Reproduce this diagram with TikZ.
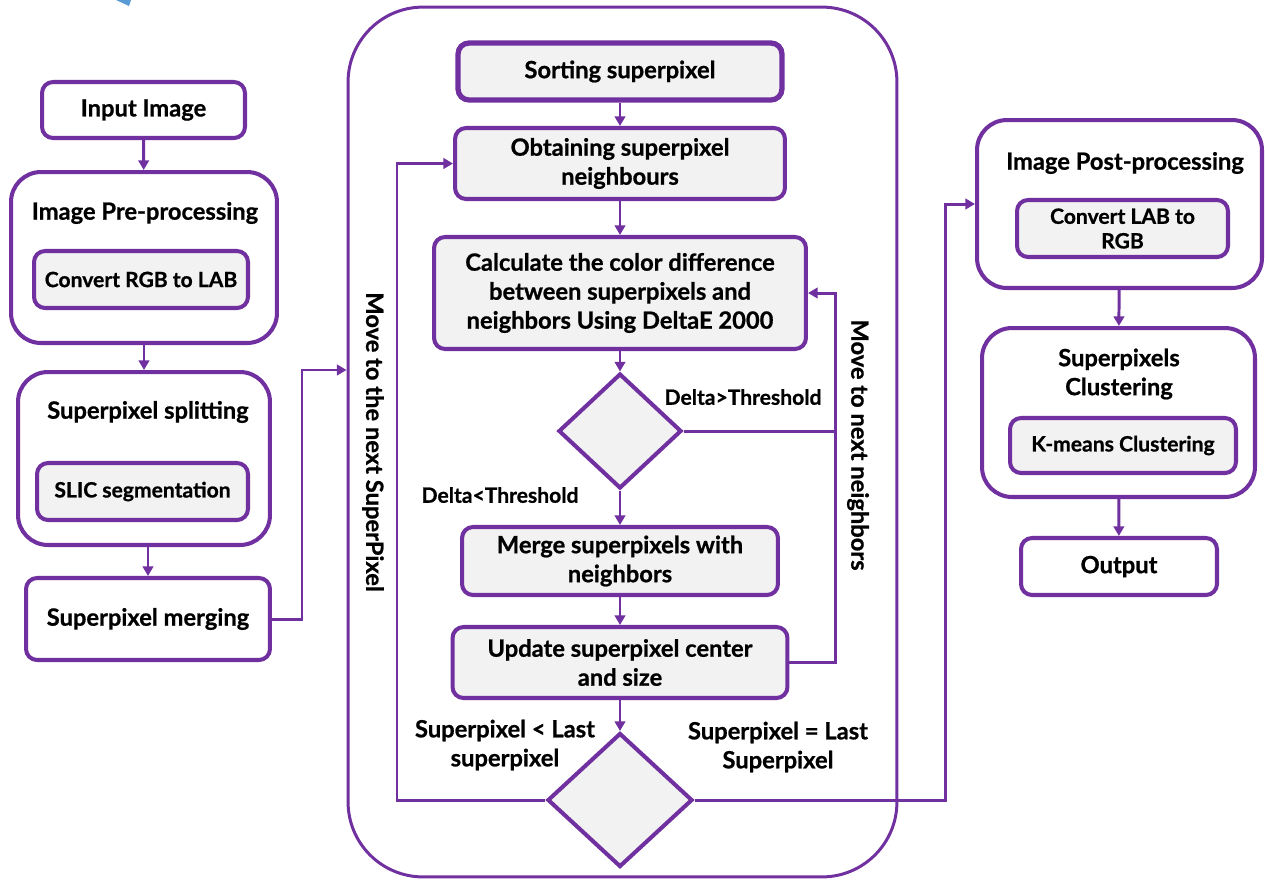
\documentclass[tikz,border=0pt]{standalone}
\usepackage{fontspec}
\setmainfont{Lato}[BoldFeatures={FakeBold=0.8}]
\usetikzlibrary{arrows.meta, shapes.geometric}
\definecolor{vio}{HTML}{7030A0}
\definecolor{boxgray}{HTML}{F2F2F2}
\definecolor{bluetip}{HTML}{5B9BD5}

\begin{document}
\begin{tikzpicture}[x=0.02cm, y=-0.02cm,
    font=\bfseries\fontsize{13.5}{16.5}\selectfont,
    frame/.style={draw=vio, line width=2.3pt, rounded corners=0.6cm},
    plain/.style={draw=vio, line width=2.3pt, rounded corners=0.22cm},
    grey/.style={plain, fill=boxgray},
    small/.style={font=\bfseries\fontsize{12}{14}\selectfont},
    arr/.style={-{Triangle[length=5.5pt,width=6pt]}, draw=vio, line width=1.7pt},
    line/.style={draw=vio, line width=1.7pt},
    choice/.style={diamond, draw=vio, line width=2.3pt, fill=boxgray, inner sep=0pt}]
  \useasboundingbox (0,0) rectangle (1265,880);
  % stray blue mark, top left
  \fill[bluetip] (116,0) -- (131,0) -- (129,6) -- cycle;

  % left column
  \node[plain, minimum width=4.06cm, minimum height=1.12cm] (input) at (143.5,110) {Input Image};
  \node[frame, minimum width=5.32cm, minimum height=3.42cm] (pre) at (144,257.5) {};
  \node (pretitle) at (145,213) {Image Pre-processing};
  \node[grey, small, minimum width=4.28cm, minimum height=1.14cm] (rgblab) at (141,279.5) {Convert RGB to LAB};
  \node[frame, minimum width=5.04cm, minimum height=3.46cm] (split) at (144,458.5) {};
  \node (splittitle) at (148,412) {Superpixel splitting};
  \node[grey, small, minimum width=4.22cm, minimum height=1.14cm] (slic) at (142.5,491.5) {SLIC segmentation};
  \node[plain, minimum width=4.88cm, minimum height=1.64cm] (merging) at (148,619) {Superpixel merging};

  % middle loop
  \node[draw=vio, line width=1.7pt, rounded corners=1.5cm, minimum width=10.98cm, minimum height=17.4cm] (loop) at (622.5,442) {};
  \node[grey, line width=3pt, minimum width=6.48cm, minimum height=1.14cm] (sort) at (620,71.5) {Sorting superpixel};
  \node[grey, align=center, minimum width=6.6cm, minimum height=1.42cm] (obtain) at (620,163.5) {Obtaining superpixel\\neighbours};
  \node[grey, align=center, minimum width=7.44cm, minimum height=2.24cm] (calc) at (620,293) {Calculate the color difference\\between superpixels and\\neighbors Using DeltaE 2000};
  \node[choice, minimum width=2.46cm, minimum height=2.3cm] (dia1) at (620,431) {};
  \node[grey, align=center, minimum width=6.32cm, minimum height=1.36cm] (merge) at (620,561) {Merge superpixels with\\neighbors};
  \node[grey, align=center, minimum width=6.7cm, minimum height=1.42cm] (update) at (620,662.5) {Update superpixel center\\and size};
  \node[choice, minimum width=2.9cm, minimum height=2.68cm] (dia2) at (620,800) {};

  \coordinate (nbr) at (835,431);
  \coordinate (nsp) at (397,480);
  \coordinate (exit) at (945,500);

  \node[small] (gt) at (743,397) {Delta>Threshold};
  \node[small] (lt) at (500,495) {Delta<Threshold};
  \node[align=center] (notlast) at (505,745) {Superpixel < Last\\superpixel};
  \node[align=center] (islast) at (778,747) {Superpixel = Last\\Superpixel};
  \node[rotate=-90] (nextsp) at (373,442) {Move to the next SuperPixel};
  \node[rotate=-90] (nextnb) at (858,445) {Move to next neighbors};

  % right column
  \node[frame, minimum width=5.7cm, minimum height=3.36cm] (post) at (1119.5,204) {};
  \node (posttitle) at (1125,163) {Image Post-processing};
  \node[grey, small, align=center, minimum width=4.22cm, minimum height=1.14cm] (labrgb) at (1122.5,228.5) {Convert LAB to\\RGB};
  \node[frame, minimum width=5.46cm, minimum height=3.38cm] (clus) at (1118.5,412.5) {};
  \node[align=center] (clustitle) at (1119,374) {Superpixels\\Clustering};
  \node[grey, small, minimum width=4.52cm, minimum height=1.1cm] (kmeans) at (1123,445.5) {K-means Clustering};
  \node[plain, minimum width=3.92cm, minimum height=1.14cm] (output) at (1119,566.5) {Output};

  % connectors
  \draw[arr] (input) -- (pre);
  \draw[arr] (pre) -- (split);
  \draw[arr] (merging.north |- split.south) -- (merging.north);
  \draw[arr] (merging.east) -| (302,450) |- (loop.west |- split.north);
  \draw[arr] (sort) -- (obtain);
  \draw[arr] (obtain) -- (calc);
  \draw[arr] (calc) -- (dia1);
  \draw[arr] (dia1) -- (merge);
  \draw[arr] (merge) -- (update);
  \draw[arr] (update) -- (dia2);
  \draw[line] (dia1.east) -- (nbr);
  \draw[arr] (update.east) -| (nbr) |- (calc.east);
  \draw[arr] (dia2.west) -| (nsp) |- (obtain.west);
  \draw[arr] (dia2.east) -| (exit) |- (post.west);
  \draw[arr] (post) -- (clus);
  \draw[arr] (clus) -- (output);
\end{tikzpicture}
\end{document}
